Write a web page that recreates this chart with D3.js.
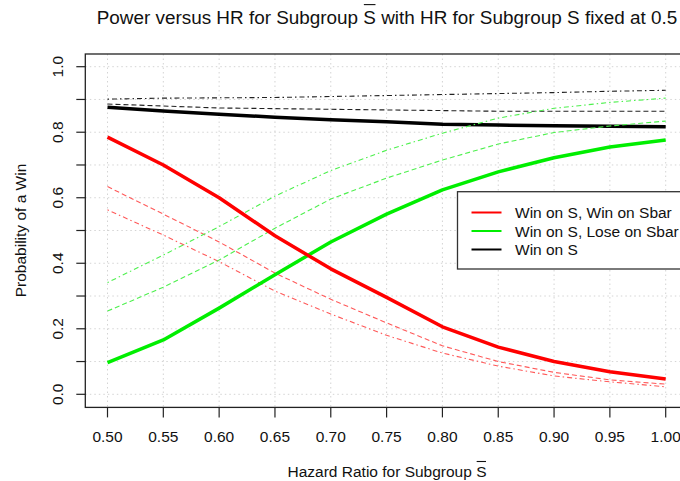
<!DOCTYPE html>
<html>
<head>
<meta charset="utf-8">
<script src="https://cdn.jsdelivr.net/npm/d3@7"></script>
<style>
  body { margin: 0; background: #fff; }
  text { font-family: Arial, "Liberation Sans", sans-serif; fill: #111; }
</style>
</head>
<body>
<div id="chart"></div>
<script>
// hazard ratio for subgroup Sbar
const hr = [0.50, 0.55, 0.60, 0.65, 0.70, 0.75, 0.80, 0.85, 0.90, 0.95, 1.00];

// Win on S, Win on Sbar
const winWin        = [0.785, 0.700, 0.600, 0.484, 0.383, 0.296, 0.206, 0.144, 0.100, 0.069, 0.047];
const winWinDash    = [0.634, 0.550, 0.465, 0.370, 0.290, 0.218, 0.148, 0.100, 0.067, 0.044, 0.031];
const winWinDotDash = [0.563, 0.486, 0.405, 0.315, 0.245, 0.180, 0.126, 0.086, 0.056, 0.038, 0.023];

// Win on S, Lose on Sbar
const winLose        = [0.097, 0.166, 0.263, 0.365, 0.465, 0.550, 0.624, 0.679, 0.722, 0.755, 0.776];
const winLoseDash    = [0.254, 0.327, 0.410, 0.507, 0.596, 0.660, 0.715, 0.764, 0.799, 0.819, 0.834];
const winLoseDotDash = [0.341, 0.425, 0.512, 0.605, 0.683, 0.745, 0.797, 0.843, 0.873, 0.891, 0.904];

// Win on S
const winS        = [0.876, 0.865, 0.855, 0.846, 0.838, 0.832, 0.824, 0.822, 0.820, 0.818, 0.817];
const winSDash    = [0.886, 0.880, 0.874, 0.872, 0.870, 0.868, 0.866, 0.864, 0.864, 0.864, 0.864];
const winSDotDash = [0.901, 0.904, 0.905, 0.906, 0.909, 0.912, 0.915, 0.918, 0.921, 0.925, 0.928];

const xTickLabels = ["0.50", "0.55", "0.60", "0.65", "0.70", "0.75", "0.80", "0.85", "0.90", "0.95", "1.00"];
const yTicks = [0, 0.1, 0.2, 0.3, 0.4, 0.5, 0.6, 0.7, 0.8, 0.9, 1.0];
const yTickLabels = ["0.0", "0.2", "0.4", "0.6", "0.8", "1.0"];
const legendLabels = ["Win on S, Win on Sbar", "Win on S, Lose on Sbar", "Win on S"];

const width = 680, height = 481;

const svg = d3.select("#chart")
    .append("svg")
    .attr("width", width)
    .attr("height", height);

const xScale = d3.scaleLinear().domain([0.5, 1.0]).range([107.5, 665.7]);
const yScale = d3.scaleLinear().domain([0, 1]).range([394.3, 66.7]);

// plot region (R adds 4% on each side)
const box = { left: 85.3, right: 688, top: 54, bottom: 407.4 };

// grid
svg.append("g")
    .selectAll("line")
    .data(hr)
    .enter()
    .append("line")
    .attr("x1", d => xScale(d)).attr("x2", d => xScale(d))
    .attr("y1", box.top).attr("y2", box.bottom)
    .attr("stroke", "#d4d4d4")
    .attr("stroke-dasharray", "1.5,3");

svg.append("g")
    .selectAll("line")
    .data(yTicks)
    .enter()
    .append("line")
    .attr("x1", box.left).attr("x2", box.right)
    .attr("y1", d => yScale(d)).attr("y2", d => yScale(d))
    .attr("stroke", "#d4d4d4")
    .attr("stroke-dasharray", "1.5,3");

// series
const line = d3.line()
    .x((d, i) => xScale(hr[i]))
    .y(d => yScale(d));

const series = [
    { values: winS,           color: "#000000", width: 3.5, dash: null },
    { values: winSDash,       color: "#222222", width: 1.1, dash: "5,3" },
    { values: winSDotDash,    color: "#222222", width: 1.1, dash: "1.5,3,5,3" },
    { values: winWinDash,     color: "#ff5a5a", width: 1.1, dash: "5,3" },
    { values: winWinDotDash,  color: "#ff5a5a", width: 1.1, dash: "1.5,3,5,3" },
    { values: winLoseDash,    color: "#4ef04e", width: 1.1, dash: "5,3" },
    { values: winLoseDotDash, color: "#4ef04e", width: 1.1, dash: "1.5,3,5,3" },
    { values: winLose,        color: "#00ee00", width: 3.5, dash: null },
    { values: winWin,         color: "#ff0000", width: 3.5, dash: null }
];

svg.append("g")
    .selectAll("path")
    .data(series)
    .enter()
    .append("path")
    .attr("d", d => line(d.values))
    .attr("fill", "none")
    .attr("stroke", d => d.color)
    .attr("stroke-width", d => d.width)
    .attr("stroke-dasharray", d => d.dash)
    .attr("stroke-linejoin", "round");

// frame
svg.append("rect")
    .attr("x", box.left).attr("y", box.top)
    .attr("width", box.right - box.left).attr("height", box.bottom - box.top)
    .attr("fill", "none")
    .attr("stroke", "#222")
    .attr("stroke-width", 1.3);

// x axis
const xAxis = svg.append("g");
xAxis.selectAll("line")
    .data(hr)
    .enter()
    .append("line")
    .attr("x1", d => xScale(d)).attr("x2", d => xScale(d))
    .attr("y1", box.bottom).attr("y2", box.bottom + 10)
    .attr("stroke", "#222").attr("stroke-width", 1.2);
xAxis.selectAll("text")
    .data(hr)
    .enter()
    .append("text")
    .attr("x", d => xScale(d))
    .attr("y", 442)
    .attr("text-anchor", "middle")
    .style("font-size", "15.5px")
    .text((d, i) => xTickLabels[i]);

// y axis
const yAxis = svg.append("g");
yAxis.selectAll("line")
    .data(yTicks)
    .enter()
    .append("line")
    .attr("x1", box.left - 9).attr("x2", box.left)
    .attr("y1", d => yScale(d)).attr("y2", d => yScale(d))
    .attr("stroke", "#222").attr("stroke-width", 1.2);
yAxis.selectAll("text")
    .data(yTickLabels)
    .enter()
    .append("text")
    .attr("transform", d => `translate(63,${yScale(+d)}) rotate(-90)`)
    .attr("text-anchor", "middle")
    .style("font-size", "15.5px")
    .text(d => d);

// legend
const legend = svg.append("g");
legend.append("rect")
    .attr("x", 457.5).attr("y", 191.7)
    .attr("width", 240).attr("height", 77.3)
    .attr("fill", "#fff")
    .attr("stroke", "#333")
    .attr("stroke-width", 1.3);
const legendColors = ["#ff0000", "#00ee00", "#000000"];
legendLabels.forEach((label, i) => {
    const y = 212.5 + i * 18.5;
    legend.append("line")
        .attr("x1", 471.5).attr("x2", 501.5)
        .attr("y1", y).attr("y2", y)
        .attr("stroke", legendColors[i])
        .attr("stroke-width", 2);
    legend.append("text")
        .attr("x", 515)
        .attr("y", y + 5.5)
        .style("font-size", "15.5px")
        .text(label);
});

// text with an overlined S
function overline(textSel, index, size) {
    const node = textSel.node();
    const r = node.getExtentOfChar(index);
    const base = +textSel.attr("y");
    svg.append("line")
        .attr("x1", r.x + 0.5).attr("x2", r.x + r.width - 0.5)
        .attr("y1", base - size * 1.0).attr("y2", base - size * 1.0)
        .attr("stroke", "#111").attr("stroke-width", 1.1);
}

const titleStart = "Power versus HR for Subgroup ";
const title = svg.append("text")
    .attr("x", 387)
    .attr("y", 23.5)
    .attr("text-anchor", "middle")
    .style("font-size", "18.9px")
    .text(titleStart + "S with HR for Subgroup S fixed at 0.5");
overline(title, titleStart.length, 18.9);

const xTitleStart = "Hazard Ratio for Subgroup ";
const xTitle = svg.append("text")
    .attr("x", 387)
    .attr("y", 477)
    .attr("text-anchor", "middle")
    .style("font-size", "15.5px")
    .text(xTitleStart + "S");
overline(xTitle, xTitleStart.length, 15.5);

svg.append("text")
    .attr("transform", "translate(26,230.5) rotate(-90)")
    .attr("text-anchor", "middle")
    .style("font-size", "15.5px")
    .text("Probability of a Win");
</script>
</body>
</html>
